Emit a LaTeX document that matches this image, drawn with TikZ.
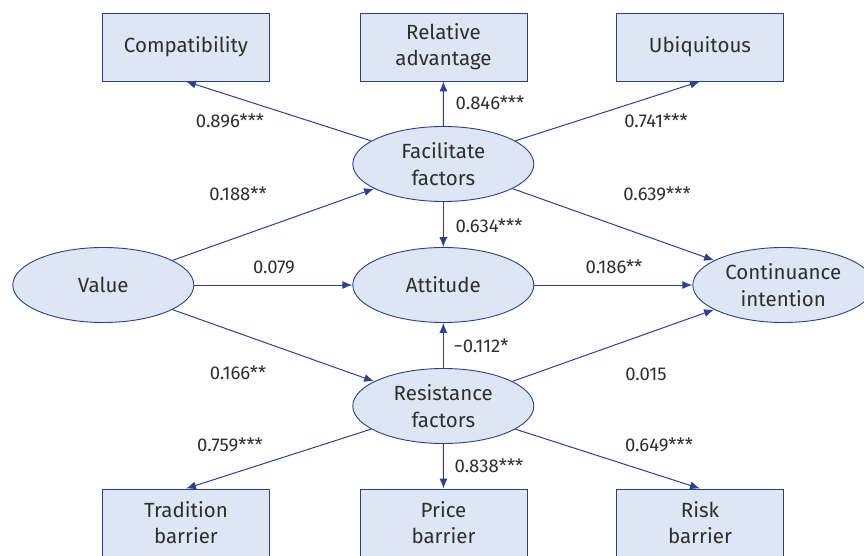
\documentclass[tikz,border=0pt]{standalone}
\usepackage{fontspec}
\setmainfont{Fira Sans}
\usetikzlibrary{arrows.meta,shapes.geometric}
\definecolor{boxfill}{HTML}{DDE7F3}
\definecolor{boxline}{HTML}{2B3F8F}
\definecolor{txt}{HTML}{2E2E2E}
\definecolor{arr}{HTML}{2A4099}
\begin{document}
\begin{tikzpicture}[x=1pt,y=-1pt,
  every node/.style={text=txt},
  mbox/.style={draw=boxline,fill=boxfill,line width=0.9pt,rectangle,minimum width=167pt,minimum height=68pt,inner sep=0pt,align=center,font=\fontsize{20.5}{26}\selectfont},
  lat/.style={draw=boxline,fill=boxfill,line width=0.9pt,ellipse,minimum width=181pt,minimum height=75pt,inner sep=0pt,align=center,font=\fontsize{20.5}{27}\selectfont},
  con/.style={draw=arr,line width=1pt,-{Latex[length=10pt,width=8pt]}},
  lbl/.style={font=\fontsize{18.5}{20}\selectfont,inner sep=0pt}
]
\useasboundingbox (0,0) rectangle (864,556);
\node[mbox] (comp) at (186,47) {Compatibility};
\node[mbox] (rel) at (443.5,47) {Relative\\advantage};
\node[mbox] (ubi) at (700,47) {Ubiquitous};
\node[mbox] (trad) at (186,523) {Tradition\\barrier};
\node[mbox] (price) at (443.5,523) {Price\\barrier};
\node[mbox] (risk) at (700,523) {Risk\\barrier};
\node[lat] (fac) at (443.3,164) {Facilitate\\factors};
\node[lat] (att) at (443.3,285) {Attitude};
\node[lat] (res) at (443.3,406) {Resistance\\factors};
\node[lat] (val) at (103.3,285) {Value};
\node[lat] (ci) at (783.3,285) {Continuance\\intention};

\draw[con] (fac) -- (comp.south);
\draw[con] (fac) -- (rel);
\draw[con] (fac) -- (ubi.south);
\draw[con] (fac) -- (ci);
\draw[con] (fac) -- (att);
\draw[con] (val) -- (fac);
\draw[con] (val) -- (att);
\draw[con] (val) -- (res);
\draw[con] (att) -- (ci);
\draw[con] (res) -- (att);
\draw[con] (res) -- (ci);
\draw[con] (res) -- (trad.north);
\draw[con] (res) -- (price);
\draw[con] (res) -- (risk.north);

\node[lbl] (l1) at (230,121) {0.896***};
\node[lbl] (l2) at (490,103) {0.846***};
\node[lbl] (l3) at (656,121) {0.741***};
\node[lbl] (l4) at (238,194) {0.188**};
\node[lbl] (l5) at (657,194) {0.639***};
\node[lbl] (l6) at (489,226) {0.634***};
\node[lbl] (l7) at (274,267) {0.079};
\node[lbl] (l8) at (614,267) {0.186**};
\node[lbl] (l9) at (481,346) {−0.112*};
\node[lbl] (l10) at (238,373) {0.166**};
\node[lbl] (l11) at (646,374) {0.015};
\node[lbl] (l12) at (230,445) {0.759***};
\node[lbl] (l13) at (489,466) {0.838***};
\node[lbl] (l14) at (659,445) {0.649***};
\end{tikzpicture}
\end{document}
